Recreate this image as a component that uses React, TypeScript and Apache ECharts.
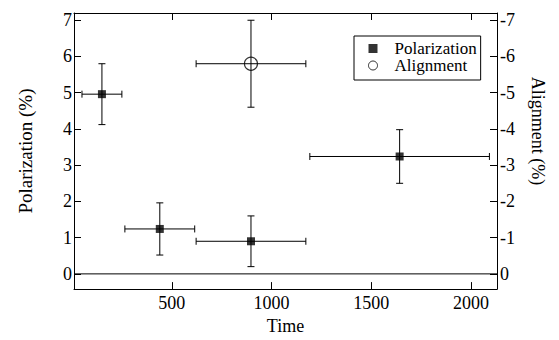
import React, { useEffect, useRef } from "react";
import * as echarts from "echarts";

// Polarization points: time, value, time error, value error
const polTime = [150, 440, 897, 1642];
const polValue = [4.96, 1.24, 0.9, 3.24];
const polTimeErr = [100, 175, 275, 450];
const polValueErr = [0.84, 0.72, 0.7, 0.74];

// Alignment point (right axis, negative values)
const alnTime = [897];
const alnValue = [-5.8];
const alnTimeErr = [275];
const alnValueErr = [1.2];

const xRange = [10, 2130];
const yRange = [-0.42, 7.2];
const zeroLine = [0];

const FONT = "'Liberation Serif', 'Times New Roman', serif";

const errRender = (params: any, api: any) => {
  const x = api.value(0);
  const y = api.value(1);
  const ex = api.value(2);
  const ey = api.value(3);
  const l = api.coord([x - ex, y]);
  const r = api.coord([x + ex, y]);
  const t = api.coord([x, y + ey]);
  const b = api.coord([x, y - ey]);
  const cap = 3.5;
  const style = { stroke: "#000", lineWidth: 1 };
  const ln = (x1: number, y1: number, x2: number, y2: number) => ({
    type: "line",
    shape: { x1, y1, x2, y2 },
    style,
  });
  return {
    type: "group",
    children: [
      ln(l[0], l[1], r[0], r[1]),
      ln(l[0], l[1] - cap, l[0], l[1] + cap),
      ln(r[0], r[1] - cap, r[0], r[1] + cap),
      ln(t[0], t[1], b[0], b[1]),
      ln(t[0] - cap, t[1], t[0] + cap, t[1]),
      ln(b[0] - cap, b[1], b[0] + cap, b[1]),
    ],
  };
};

const intLabel = (step: number) => (v: number) =>
  Math.abs(v / step - Math.round(v / step)) < 1e-6 ? String(Math.round(v)) : "";

export default function App() {
  const ref = useRef<HTMLDivElement>(null);
  useEffect(() => {
    if (!ref.current) return;
    const chart = echarts.init(ref.current, null, { renderer: "svg" });
    const axisLine = { show: true, onZero: false, lineStyle: { color: "#000", width: 1 } };
    const axisTick = { show: true, inside: true, length: 7, lineStyle: { color: "#000", width: 1 } };
    const polErr = polTime.map((t, i) => [t, polValue[i], polTimeErr[i], polValueErr[i]]);
    const alnErr = alnTime.map((t, i) => [t, alnValue[i], alnTimeErr[i], alnValueErr[i]]);
    chart.setOption({
      animation: false,
      backgroundColor: "#fff",
      textStyle: { fontFamily: FONT, color: "#000" },
      grid: { left: 74, right: 62, top: 13, bottom: 47 },
      legend: {
        orient: "vertical",
        left: 354,
        top: 36,
        padding: [4, 4, 6, 14],
        itemGap: 0,
        itemWidth: 9,
        itemHeight: 9,
        borderColor: "#000",
        borderWidth: 1,
        backgroundColor: "#fff",
        textStyle: { fontFamily: FONT, fontSize: 17, color: "#000", lineHeight: 17, padding: [0, 0, 0, 12] },
        data: [
          { name: "Polarization", icon: "rect", itemStyle: { color: "#000" } },
          {
            name: "Alignment",
            icon: "circle",
            itemStyle: { color: "#fff", borderColor: "#000", borderWidth: 1 },
          },
        ],
      },
      xAxis: [
        {
          type: "value",
          min: xRange[0],
          max: xRange[1],
          minInterval: 500,
          maxInterval: 500,
          name: "Time",
          nameLocation: "middle",
          nameGap: 27,
          nameTextStyle: { fontFamily: FONT, fontSize: 18, color: "#000" },
          axisLine,
          axisTick,
          axisLabel: {
            fontFamily: FONT,
            fontSize: 18,
            color: "#000",
            margin: 5,
            showMinLabel: false,
            showMaxLabel: false,
            formatter: intLabel(500),
          },
          splitLine: { show: false },
        },
        {
          type: "value",
          position: "top",
          min: xRange[0],
          max: xRange[1],
          minInterval: 500,
          maxInterval: 500,
          axisLine,
          axisTick,
          axisLabel: { show: false },
          splitLine: { show: false },
        },
      ],
      yAxis: [
        {
          type: "value",
          min: yRange[0],
          max: yRange[1],
          minInterval: 1,
          maxInterval: 1,
          name: "Polarization (%)",
          nameLocation: "middle",
          nameGap: 39,
          nameTextStyle: { fontFamily: FONT, fontSize: 19, color: "#000" },
          axisLine,
          axisTick,
          axisLabel: {
            fontFamily: FONT,
            fontSize: 18,
            color: "#000",
            margin: 2,
            showMinLabel: false,
            showMaxLabel: false,
            formatter: intLabel(1),
          },
          splitLine: { show: false },
        },
        {
          type: "value",
          position: "right",
          inverse: true,
          min: -yRange[1],
          max: -yRange[0],
          minInterval: 1,
          maxInterval: 1,
          name: "Alignment (%)",
          nameLocation: "middle",
          nameRotate: -90,
          nameGap: 32,
          nameTextStyle: { fontFamily: FONT, fontSize: 18, color: "#000", padding: [0, 40, 0, 0] },
          axisLine,
          axisTick,
          axisLabel: {
            fontFamily: FONT,
            fontSize: 18,
            color: "#000",
            margin: 3,
            showMinLabel: false,
            showMaxLabel: false,
            formatter: intLabel(1),
          },
          splitLine: { show: false },
        },
      ],
      series: [
        {
          name: "Zero",
          type: "line",
          xAxisIndex: 0,
          yAxisIndex: 0,
          symbol: "none",
          silent: true,
          lineStyle: { color: "#000", width: 1 },
          data: [
            [xRange[0], zeroLine[0]],
            [xRange[1], zeroLine[0]],
          ],
          z: 1,
        },
        {
          name: "PolErr",
          type: "custom",
          xAxisIndex: 0,
          yAxisIndex: 0,
          renderItem: errRender,
          data: polErr,
          silent: true,
          z: 2,
        },
        {
          name: "AlnErr",
          type: "custom",
          xAxisIndex: 0,
          yAxisIndex: 1,
          renderItem: errRender,
          data: alnErr,
          silent: true,
          z: 2,
        },
        {
          name: "Polarization",
          type: "scatter",
          xAxisIndex: 0,
          yAxisIndex: 0,
          symbol: "rect",
          symbolSize: 8,
          itemStyle: { color: "#000" },
          data: polTime.map((t, i) => [t, polValue[i]]),
          z: 3,
        },
        {
          name: "Alignment",
          type: "scatter",
          xAxisIndex: 0,
          yAxisIndex: 1,
          symbol: "circle",
          symbolSize: 13,
          itemStyle: { color: "rgba(0,0,0,0)", borderColor: "#000", borderWidth: 1.2 },
          data: alnTime.map((t, i) => [t, alnValue[i]]),
          z: 3,
        },
      ],
    });
    return () => chart.dispose();
  }, []);
  return <div ref={ref} style={{ width: 559, height: 340, position: "absolute", left: 0, top: 0 }} />;
}
